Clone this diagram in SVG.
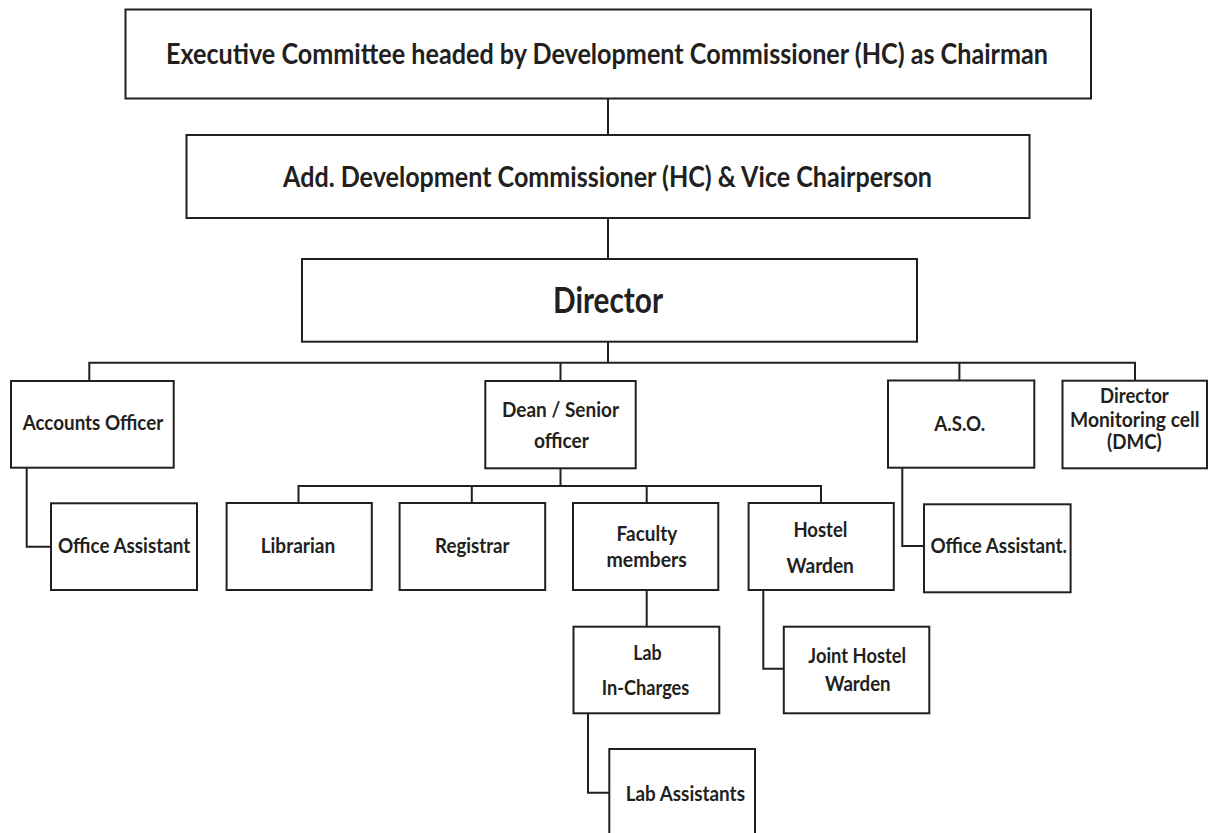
<svg xmlns="http://www.w3.org/2000/svg" width="1210" height="833" viewBox="0 0 1210 833">
<style>
.box{fill:#fff;stroke:#231f20;stroke-width:2}
.ln{fill:none;stroke:#231f20;stroke-width:2}
text{font-family:Lato,"Open Sans","Liberation Sans",sans-serif;font-weight:700;fill:#231f20;text-anchor:middle}
.big{font-size:29px}
.dir{font-size:37px}
.sm{font-size:21px}
</style>
<rect width="1210" height="833" fill="#fff"/>
<g id="connectors">
<path class="ln" d="M608,98V135M608,218V259M608,341.7V362.7"/>
<path class="ln" d="M89.3,381V362.7H1135V380.7M560.5,362.7V381M959.4,362.7V381"/>
<path class="ln" d="M26.7,468V546.7H51"/>
<path class="ln" d="M560.5,468.3V486M298.5,503V486H821V503M471.8,486V503M646.7,486V503"/>
<path class="ln" d="M646.7,590V626.7"/>
<path class="ln" d="M588,713.3V792.7H609.3"/>
<path class="ln" d="M763.3,590V668.7H783.8"/>
<path class="ln" d="M902.3,467.7V546H924"/>
</g>
<g id="exec"><rect class="box" x="125.5" y="9.5" width="965.5" height="89"/><text class="big" x="607" y="64" textLength="882" lengthAdjust="spacingAndGlyphs">Executive Committee headed by Development Commissioner (HC) as Chairman</text></g>
<g id="addl"><rect class="box" x="186.5" y="135" width="843" height="83"/><text class="big" x="607.5" y="186.7" textLength="649" lengthAdjust="spacingAndGlyphs">Add. Development Commissioner (HC) &amp; Vice Chairperson</text></g>
<g id="director"><rect class="box" x="302" y="259" width="615" height="82.7"/><text class="dir" x="608" y="313" textLength="110" lengthAdjust="spacingAndGlyphs">Director</text></g>
<g id="accounts"><rect class="box" x="11" y="381" width="162.7" height="86.7"/><text class="sm" x="93" y="430" textLength="140.6" lengthAdjust="spacingAndGlyphs">Accounts Officer</text></g>
<g id="dean"><rect class="box" x="485.3" y="381" width="150.4" height="87.3"/><text class="sm" x="560.5" y="416.7" textLength="117" lengthAdjust="spacingAndGlyphs">Dean / Senior</text><text class="sm" x="561.4" y="448.3" textLength="55" lengthAdjust="spacingAndGlyphs">officer</text></g>
<g id="aso"><rect class="box" x="888" y="380.5" width="146.3" height="87.2"/><text class="sm" x="959.8" y="430.7" textLength="51" lengthAdjust="spacingAndGlyphs">A.S.O.</text></g>
<g id="dmc"><rect class="box" x="1062.5" y="380.7" width="144.5" height="87.6"/><text class="sm" x="1134.4" y="403.3" textLength="68.7" lengthAdjust="spacingAndGlyphs">Director</text><text class="sm" x="1134.8" y="426.7" textLength="129.6" lengthAdjust="spacingAndGlyphs">Monitoring cell</text><text class="sm" x="1134.4" y="449.3" textLength="54.7" lengthAdjust="spacingAndGlyphs">(DMC)</text></g>
<g id="office-assistant-1"><rect class="box" x="51" y="503.3" width="146" height="86.7"/><text class="sm" x="124.1" y="553.3" textLength="132.4" lengthAdjust="spacingAndGlyphs">Office Assistant</text></g>
<g id="librarian"><rect class="box" x="226.6" y="503" width="145.2" height="87"/><text class="sm" x="297.9" y="553" textLength="74.5" lengthAdjust="spacingAndGlyphs">Librarian</text></g>
<g id="registrar"><rect class="box" x="399.6" y="503" width="145.6" height="87"/><text class="sm" x="472.3" y="553" textLength="74.5" lengthAdjust="spacingAndGlyphs">Registrar</text></g>
<g id="faculty"><rect class="box" x="573" y="503" width="145.3" height="87"/><text class="sm" x="646.9" y="540.7" textLength="60.6" lengthAdjust="spacingAndGlyphs">Faculty</text><text class="sm" x="646.7" y="566.7" textLength="80.4" lengthAdjust="spacingAndGlyphs">members</text></g>
<g id="hostel"><rect class="box" x="748.6" y="503" width="145.2" height="87"/><text class="sm" x="820.4" y="536.7" textLength="54" lengthAdjust="spacingAndGlyphs">Hostel</text><text class="sm" x="820.2" y="573" textLength="67.5" lengthAdjust="spacingAndGlyphs">Warden</text></g>
<g id="office-assistant-2"><rect class="box" x="924" y="504.3" width="146.6" height="88"/><text class="sm" x="998.7" y="553" textLength="136.5" lengthAdjust="spacingAndGlyphs">Office Assistant.</text></g>
<g id="lab-incharges"><rect class="box" x="573.5" y="626.7" width="145.8" height="86.6"/><text class="sm" x="647.5" y="660" textLength="28.4" lengthAdjust="spacingAndGlyphs">Lab</text><text class="sm" x="645.5" y="695" textLength="87.7" lengthAdjust="spacingAndGlyphs">In-Charges</text></g>
<g id="joint-hostel"><rect class="box" x="783.8" y="626.7" width="145.5" height="86.6"/><text class="sm" x="857.2" y="663" textLength="97.7" lengthAdjust="spacingAndGlyphs">Joint Hostel</text><text class="sm" x="857.8" y="691" textLength="65.7" lengthAdjust="spacingAndGlyphs">Warden</text></g>
<g id="lab-assistants"><rect class="box" x="609.3" y="749" width="145.7" height="100"/><text class="sm" x="685.3" y="800.7" textLength="119.3" lengthAdjust="spacingAndGlyphs">Lab Assistants</text></g>
</svg>
